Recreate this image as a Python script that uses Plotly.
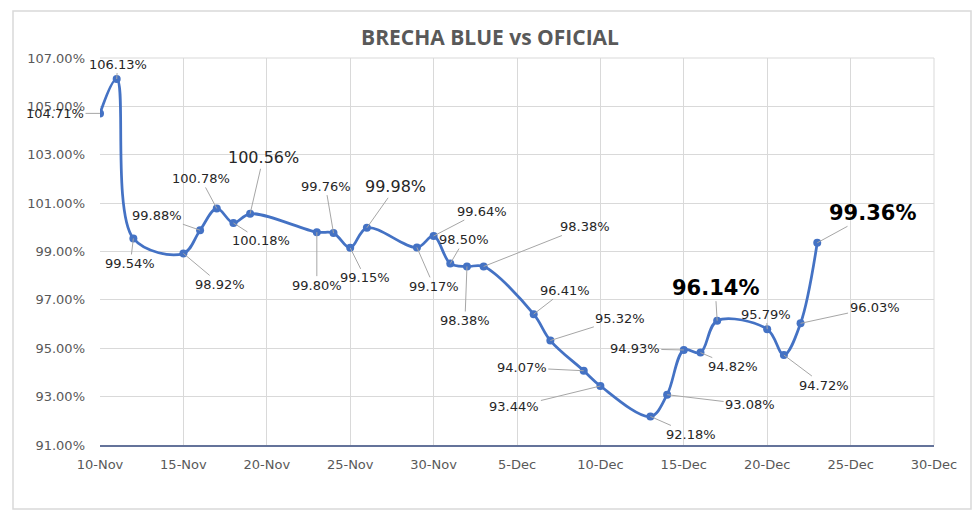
import plotly.graph_objects as go

dates = ["2022-11-10", "2022-11-11", "2022-11-12", "2022-11-15", "2022-11-16", "2022-11-17",
         "2022-11-18", "2022-11-19", "2022-11-23", "2022-11-24", "2022-11-25", "2022-11-26",
         "2022-11-29", "2022-11-30", "2022-12-01", "2022-12-02", "2022-12-03", "2022-12-06",
         "2022-12-07", "2022-12-09", "2022-12-10", "2022-12-13", "2022-12-14", "2022-12-15",
         "2022-12-16", "2022-12-17", "2022-12-20", "2022-12-21", "2022-12-22", "2022-12-23"]
brecha = [104.71, 106.13, 99.54, 98.92, 99.88, 100.78, 100.18, 100.56, 99.80, 99.76, 99.15, 99.98,
          99.17, 99.64, 98.50, 98.38, 98.38, 96.41, 95.32, 94.07, 93.44, 92.18, 93.08, 94.93,
          94.82, 96.14, 95.79, 94.72, 96.03, 99.36]

x_tick_vals = ["2022-11-10", "2022-11-15", "2022-11-20", "2022-11-25", "2022-11-30", "2022-12-05",
               "2022-12-10", "2022-12-15", "2022-12-20", "2022-12-25", "2022-12-30"]
x_tick_text = ["10-Nov", "15-Nov", "20-Nov", "25-Nov", "30-Nov", "5-Dec", "10-Dec", "15-Dec",
               "20-Dec", "25-Dec", "30-Dec"]
y_tick_vals = [91, 93, 95, 97, 99, 101, 103, 105, 107]
y_tick_text = ["91.00%", "93.00%", "95.00%", "97.00%", "99.00%", "101.00%", "103.00%", "105.00%", "107.00%"]

# label offsets (pixels) and style per point: (ax, ay, style)
label_offsets = [(-45, 0, "n"), (1, -15, "n"), (-3, 25, "n"), (37, 31, "n"), (-43, -15, "n"),
                 (-16, -30, "n"), (28, 18, "n"), (13, -56, "m"), (0, 53, "n"), (-8, -47, "n"),
                 (15, 30, "n"), (29, -41, "m"), (17, 39, "n"), (48, -25, "n"), (14, -24, "n"),
                 (-2, 54, "n"), (101, -40, "n"), (31, -24, "n"), (70, -22, "n"), (-62, -3, "n"),
                 (-86, 21, "n"), (41, 18, "n"), (83, 10, "n"), (-49, -1, "n"), (33, 14, "n"),
                 (-2, -33, "b"), (-1, -15, "n"), (40, 30, "n"), (74, -16, "n"), (55, -30, "b")]

blue = "#4472C4"
fig = go.Figure()
fig.add_trace(go.Scatter(
    x=dates, y=brecha, mode="lines+markers",
    line=dict(color=blue, width=2.75, shape="spline", smoothing=1.0),
    marker=dict(color=blue, size=8),
    hoverinfo="skip", showlegend=False,
))

annots = []
for d, v, (ax, ay, st) in zip(dates, brecha, label_offsets):
    if st == "b":
        font = dict(family="DejaVu Sans", size=21, color="#000000", weight="bold")
    elif st == "m":
        font = dict(family="DejaVu Sans", size=16, color="#262626")
    else:
        font = dict(family="DejaVu Sans", size=13, color="#262626")
    annots.append(dict(
        x=d, y=v, xref="x", yref="y", text=f"{v:.2f}%", showarrow=True,
        ax=ax, ay=ay, axref="pixel", ayref="pixel", arrowhead=0, arrowwidth=1,
        arrowcolor="#a6a6a6", standoff=0, startstandoff=0, font=font,
    ))

PH = 387.0
PW = 834.0
fig.update_layout(
    width=980, height=521,
    margin=dict(l=100, r=46, t=58, b=76),
    paper_bgcolor="white", plot_bgcolor="white",
    title=dict(text="<b>BRECHA BLUE vs OFICIAL</b>", x=0.5, xanchor="center", y=0.927, yanchor="middle",
               font=dict(family="Open Sans", size=21, color="#595959")),
    annotations=annots,
    xaxis=dict(type="date", range=["2022-11-10", "2022-12-30"], tickvals=x_tick_vals, ticktext=x_tick_text,
               showgrid=True, gridcolor="#d9d9d9", gridwidth=1, zeroline=False,
               showline=True, linecolor="#64739a", linewidth=2, ticks="",
               tickfont=dict(family="DejaVu Sans", size=13, color="#595959"), ticklabelstandoff=6),
    yaxis=dict(range=[91, 107], tickvals=y_tick_vals, ticktext=y_tick_text,
               showgrid=True, gridcolor="#d9d9d9", gridwidth=1, zeroline=False,
               showline=False, ticks="",
               tickfont=dict(family="DejaVu Sans", size=13, color="#595959"), ticklabelstandoff=14),
    shapes=[
        dict(type="rect", xref="paper", yref="paper", x0=(13 - 100) / PW, x1=(971 - 100) / PW,
             y0=(445 - 509) / PH, y1=(445 - 11) / PH, line=dict(color="#d9d9d9", width=1.5),
             layer="below"),
        dict(type="line", xref="paper", yref="paper", x0=1, x1=1, y0=0, y1=1,
             line=dict(color="#d9d9d9", width=1), layer="below"),
        dict(type="line", xref="paper", yref="paper", x0=0, x1=1, y0=1, y1=1,
             line=dict(color="#d9d9d9", width=1), layer="below"),
    ],
)

fig.write_html("out.html")
